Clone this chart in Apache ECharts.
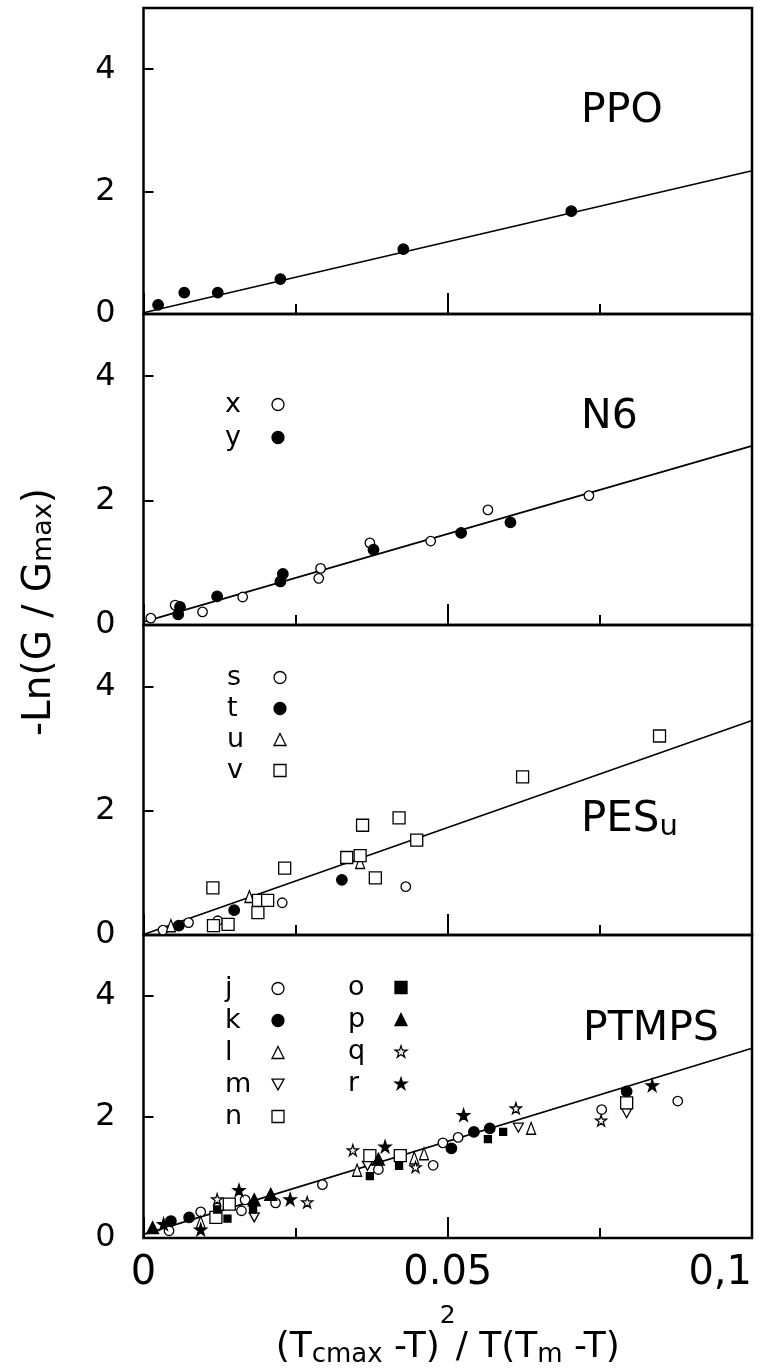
<!DOCTYPE html>
<html>
<head>
<meta charset="utf-8">
<title>-Ln(G/Gmax) against (Tcmax-T)^2/T(Tm-T)</title>
<script src="https://cdn.jsdelivr.net/npm/echarts@6/dist/echarts.min.js"></script>
<style>
  html, body { margin: 0; padding: 0; background: #fff; }
  #chart { width: 763px; height: 1371px; }
</style>
</head>
<body>
<div id="chart"></div>
<script>
const FONT = "DejaVu Sans";

const yTickLabels = ["0", "2", "4"];
const xTickLabels = ["0", "0.05", "0,1"];

// straight fitted lines, one per panel: [x, y] at both ends
const fitPPO = [[0, 0.02], [0.1, 2.34]];
const fitN6 = [[0, 0.05], [0.1, 2.88]];
const fitPES = [[0, 0.01], [0.1, 3.46]];
const fitPTMPS = [[0, 0.06], [0.1, 3.13]];

// PPO
const ppoDots = [[0.0024, 0.15], [0.0067, 0.35], [0.0122, 0.35], [0.0225, 0.57], [0.0427, 1.06], [0.0703, 1.68]];

// N6
const n6x = [[0.0012, 0.11], [0.0052, 0.32], [0.0097, 0.21], [0.0163, 0.45], [0.0288, 0.75], [0.0291, 0.91],
  [0.0372, 1.32], [0.0472, 1.35], [0.0566, 1.85], [0.0732, 2.08]];
const n6y = [[0.0057, 0.17], [0.0060, 0.29], [0.0121, 0.46], [0.0225, 0.70], [0.0229, 0.82], [0.0378, 1.21],
  [0.0522, 1.48], [0.0603, 1.65]];

// PESu
const pesS = [[0.0032, 0.08], [0.0074, 0.20], [0.0122, 0.23], [0.0228, 0.52], [0.0431, 0.78]];
const pesT = [[0.0058, 0.15], [0.0149, 0.40], [0.0326, 0.89]];
const pesU = [[0.0045, 0.15], [0.0174, 0.62], [0.0356, 1.17]];
const pesV = [[0.0115, 0.15], [0.0139, 0.17], [0.0114, 0.76], [0.0188, 0.36], [0.0189, 0.56], [0.0204, 0.56],
  [0.0232, 1.08], [0.0334, 1.25], [0.0356, 1.28], [0.0360, 1.77], [0.0381, 0.92], [0.0420, 1.89],
  [0.0449, 1.53], [0.0623, 2.55], [0.0848, 3.21]];

// PTMPS
const ptJ = [[0.0042, 0.12], [0.0094, 0.43], [0.0161, 0.45], [0.0167, 0.63], [0.0217, 0.58], [0.0294, 0.88],
  [0.0386, 1.13], [0.0476, 1.20], [0.0492, 1.57], [0.0517, 1.66], [0.0753, 2.12], [0.0878, 2.26]];
const ptK = [[0.0045, 0.28], [0.0075, 0.34], [0.0506, 1.48], [0.0543, 1.75], [0.0569, 1.81], [0.0794, 2.42]];
const ptL = [[0.0094, 0.26], [0.0351, 1.12], [0.0445, 1.32], [0.0461, 1.39], [0.0637, 1.81]];
const ptM = [[0.0182, 0.34], [0.0368, 1.19], [0.0616, 1.82], [0.0794, 2.06]];
const ptN = [[0.0119, 0.34], [0.0141, 0.56], [0.0372, 1.36], [0.0422, 1.36], [0.0794, 2.23]];
const ptO = [[0.0121, 0.47], [0.0138, 0.32], [0.0180, 0.47], [0.0372, 1.02], [0.0420, 1.19], [0.0566, 1.63],
  [0.0591, 1.75]];
const ptP = [[0.0015, 0.17], [0.0182, 0.63], [0.0209, 0.72], [0.0386, 1.30]];
const ptQ = [[0.0121, 0.64], [0.0269, 0.59], [0.0344, 1.45], [0.0447, 1.17], [0.0612, 2.14], [0.0752, 1.94]];
const ptR = [[0.0033, 0.23], [0.0094, 0.14], [0.0157, 0.79], [0.0241, 0.64], [0.0397, 1.51], [0.0526, 2.03],
  [0.0836, 2.52]];

// layout
const gridTops = [8, 314, 625, 935];
const gridHeights = [306, 311, 310, 303];
const GRID_LEFT = 143.5;
const GRID_RIGHT = 11;

const STAR = "path://M50,0L61.2,34.5L97.6,34.5L68.2,55.9L79.4,90.5L50,69.1L20.6,90.5L31.8,55.9L2.4,34.5L38.8,34.5Z";
const DOWN = "path://M0,0L100,0L50,90Z";

const markers = {
  openCircle: { symbol: "circle", size: 9.5, fill: "#fff" },
  dot: { symbol: "circle", size: 10.5, fill: "#000" },
  openTri: { symbol: "triangle", size: [9, 12], fill: "#fff" },
  openSquare: { symbol: "rect", size: 12, fill: "#fff" },
  openDown: { symbol: DOWN, size: [10, 9], fill: "#fff" },
  blackSquare: { symbol: "rect", size: 7, fill: "#000" },
  blackTri: { symbol: "triangle", size: 12, fill: "#000" },
  openStar: { symbol: STAR, size: 11, fill: "#fff" },
  blackStar: { symbol: STAR, size: 12, fill: "#000" },
};

const scatterDefs = [
  { name: "PPO", panel: 0, data: ppoDots, marker: "dot" },
  { name: "x", panel: 1, data: n6x, marker: "openCircle" },
  { name: "y", panel: 1, data: n6y, marker: "dot" },
  { name: "s", panel: 2, data: pesS, marker: "openCircle" },
  { name: "t", panel: 2, data: pesT, marker: "dot" },
  { name: "u", panel: 2, data: pesU, marker: "openTri" },
  { name: "v", panel: 2, data: pesV, marker: "openSquare" },
  { name: "j", panel: 3, data: ptJ, marker: "openCircle" },
  { name: "k", panel: 3, data: ptK, marker: "dot" },
  { name: "l", panel: 3, data: ptL, marker: "openTri" },
  { name: "m", panel: 3, data: ptM, marker: "openDown" },
  { name: "n", panel: 3, data: ptN, marker: "openSquare" },
  { name: "o", panel: 3, data: ptO, marker: "blackSquare" },
  { name: "p", panel: 3, data: ptP, marker: "blackTri" },
  { name: "q", panel: 3, data: ptQ, marker: "openStar" },
  { name: "r", panel: 3, data: ptR, marker: "blackStar" },
];
const fitLines = [fitPPO, fitN6, fitPES, fitPTMPS];

const black = "#000";

const grids = gridTops.map((top, i) => ({
  left: GRID_LEFT,
  right: GRID_RIGHT,
  top,
  height: gridHeights[i],
  show: true,
  backgroundColor: "transparent",
  borderColor: black,
  borderWidth: 2.5,
  containLabel: false,
  outerBoundsMode: "none",
}));

const xAxes = [];
gridTops.forEach((_, i) => {
  const last = i === gridTops.length - 1;
  xAxes.push({
    gridIndex: i,
    type: "value",
    position: "bottom",
    min: 0,
    max: 0.1,
    interval: 0.025,
    axisLine: { show: false },
    axisTick: { show: true, inside: true, length: 10, lineStyle: { color: black, width: 2 } },
    axisLabel: { show: false },
    splitLine: { show: false },
  });
  xAxes.push({
    gridIndex: i,
    type: "value",
    position: "bottom",
    min: 0,
    max: 0.1,
    interval: 0.05,
    axisLine: { show: false },
    axisTick: { show: true, inside: true, length: 21, lineStyle: { color: black, width: 2 } },
    axisLabel: last
      ? {
          show: true,
          color: black,
          fontFamily: FONT,
          fontSize: 40,
          margin: 16,
          alignMaxLabel: "right",
          formatter: (v) => xTickLabels[Math.round(v / 0.05)],
        }
      : { show: false },
    splitLine: { show: false },
    name: last ? "{a|(T}{s|cmax}{a| -T)}{p|2}{a|/ T(T}{s|m}{a| -T)}" : "",
    nameLocation: "middle",
    nameGap: 66,
    nameMoveOverlap: false,
    nameTextStyle: {
      color: black,
      fontFamily: FONT,
      rich: {
        a: { fontFamily: FONT, fontSize: 36, lineHeight: 88, verticalAlign: "middle", color: black },
        s: { fontFamily: FONT, fontSize: 26, lineHeight: 26, verticalAlign: "bottom", padding: [0, 0, 24, 0], color: black },
        p: { fontFamily: FONT, fontSize: 25, lineHeight: 25, verticalAlign: "top", color: black },
      },
    },
  });
});

const yAxes = gridTops.map((_, i) => ({
  gridIndex: i,
  type: "value",
  min: 0,
  max: 5,
  interval: 2,
  axisLine: { show: false },
  axisTick: { show: true, inside: true, length: 10, lineStyle: { color: black, width: 2 } },
  axisLabel: {
    color: black,
    fontFamily: FONT,
    fontSize: 32,
    margin: 28,
    padding: [12, 0, 0, 0],
    formatter: (v) => yTickLabels[v / 2] ?? "",
  },
  splitLine: { show: false },
}));

const lineSeries = fitLines.map((data, i) => ({
  type: "line",
  name: "fit " + i,
  xAxisIndex: 2 * i,
  yAxisIndex: i,
  data,
  symbol: "none",
  silent: true,
  z: 1,
  lineStyle: { color: black, width: 1.6 },
}));

const scatterSeries = scatterDefs.map((d) => {
  const m = markers[d.marker];
  return {
    type: "scatter",
    name: d.name,
    xAxisIndex: 2 * d.panel,
    yAxisIndex: d.panel,
    data: d.data,
    symbol: m.symbol,
    symbolSize: m.size,
    z: 3,
    itemStyle: { color: m.fill, borderColor: black, borderWidth: 1.3, opacity: 1 },
  };
});

const legendBase = {
  orient: "vertical",
  align: "right",
  padding: 0,
  itemWidth: 12,
  itemHeight: 12,
  selectedMode: false,
  itemStyle: { borderColor: black, borderWidth: 1.3 },
  formatter: (name) => "{a|" + name + "}",
  textStyle: {
    rich: {
      a: { fontFamily: FONT, fontSize: 27, lineHeight: 26, width: 42, align: "left", color: black },
    },
  },
};
const legends = [
  { data: ["x", "y"], left: 225, top: 391, itemGap: 6 },
  { data: ["s", "t", "u", "v"], left: 227, top: 664, itemGap: 4 },
  { data: ["j", "k", "l", "m", "n"], left: 225, top: 975, itemGap: 5 },
  { data: ["o", "p", "q", "r"], left: 348, top: 974, itemGap: 5 },
].map((l) => Object.assign({}, legendBase, l));

const panelLabel = (text, x, y, rich) => ({
  type: "text",
  x,
  y,
  style: {
    text,
    fill: black,
    font: "41px " + FONT,
    align: "left",
    verticalAlign: "middle",
    rich,
  },
});

const graphics = [
  panelLabel("PPO", 581, 111),
  panelLabel("N6", 581, 417),
  panelLabel("{a|PES}{s|u}", 581, 820, {
    a: { fontFamily: FONT, fontSize: 42, lineHeight: 50, verticalAlign: "middle" },
    s: { fontFamily: FONT, fontSize: 29, lineHeight: 29, verticalAlign: "bottom", padding: [0, 0, 3, 0] },
  }),
  panelLabel("PTMPS", 583, 1029),
  {
    type: "text",
    x: 40,
    y: 612,
    rotation: Math.PI / 2,
    style: {
      text: "{a|-Ln(G / G}{s|max}{a|)}",
      fill: black,
      align: "center",
      verticalAlign: "middle",
      rich: {
        a: { fontFamily: FONT, fontSize: 39, lineHeight: 46, verticalAlign: "middle" },
        s: { fontFamily: FONT, fontSize: 27, lineHeight: 27, verticalAlign: "bottom", padding: [0, 0, 6, 0] },
      },
    },
  },
];

const chart = echarts.init(document.getElementById("chart"), null, { renderer: "canvas" });
chart.setOption({
  backgroundColor: "#fff",
  animation: false,
  grid: grids,
  xAxis: xAxes,
  yAxis: yAxes,
  legend: legends,
  series: [...lineSeries, ...scatterSeries],
  graphic: graphics,
});
</script>
</body>
</html>
